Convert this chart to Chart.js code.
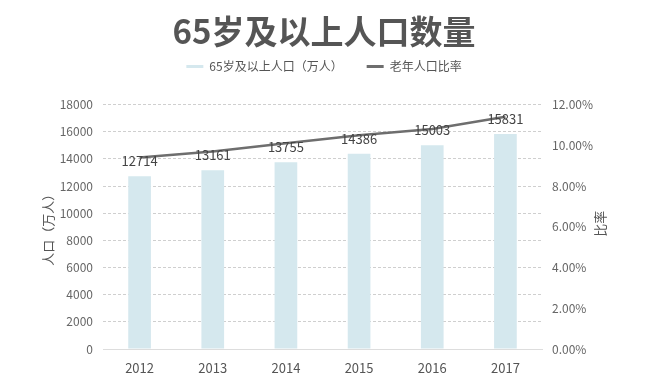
<!DOCTYPE html>
<html>
<head>
<meta charset="utf-8">
<script src="https://cdn.jsdelivr.net/npm/chart.js@4/dist/chart.umd.min.js"></script>
<style>
  html, body { margin: 0; padding: 0; background: #fff; }
  #wrap { width: 650px; height: 391px; }
</style>
</head>
<body>
<div id="wrap"><canvas id="c"></canvas></div>
<script>
// 数据
const years = ['2012', '2013', '2014', '2015', '2016', '2017'];
const population = [12714, 13161, 13755, 14386, 15003, 15831];
const ratio = [9.4, 9.7, 10.1, 10.5, 10.8, 11.4];

const FONT = "'Noto Sans CJK SC', 'Noto Sans', sans-serif";
const TXT = '#555';

// 图例下方留白
const legendGap = {
  id: 'legendGap',
  beforeInit(chart) {
    const fit = chart.legend.fit;
    chart.legend.fit = function () {
      fit.call(this);
      this.height += 22;
    };
  },
};

// 柱子上方数值 + 右侧轴标题（逆时针旋转）
const extras = {
  id: 'extras',
  afterDatasetsDraw(chart) {
    const c = chart.ctx;
    const meta = chart.getDatasetMeta(1);
    c.save();
    c.font = '13px ' + FONT;
    c.fillStyle = '#444';
    c.textAlign = 'center';
    c.textBaseline = 'middle';
    meta.data.forEach((bar, i) => {
      c.fillText(population[i], bar.x, bar.y - 15);
    });
    const area = chart.chartArea;
    c.translate(600, (area.top + area.bottom) / 2 - 3);
    c.rotate(-Math.PI / 2);
    c.fillStyle = TXT;
    c.fillText('比率', 0, 0);
    c.restore();
  },
};

new Chart(document.getElementById('c'), {
  data: {
    labels: years,
    datasets: [
      {
        type: 'line',
        label: '老年人口比率',
        data: ratio,
        yAxisID: 'y1',
        borderColor: '#6e6e6e',
        backgroundColor: '#6e6e6e',
        borderWidth: 2.5,
        pointRadius: 0,
        tension: 0,
        order: 0,
      },
      {
        type: 'bar',
        label: '65岁及以上人口（万人）',
        data: population,
        yAxisID: 'y',
        backgroundColor: '#d5e8ee',
        barPercentage: 0.31,
        categoryPercentage: 1,
        order: 1,
      },
    ],
  },
  options: {
    responsive: true,
    maintainAspectRatio: false,
    animation: false,
    layout: { padding: { left: 36, right: 38, top: 0, bottom: 0 } },
    plugins: {
      title: {
        display: true,
        text: '65岁及以上人口数量',
        color: '#555',
        font: { family: FONT, size: 33, weight: 'bold' },
        padding: { top: 12, bottom: -15 },
      },
      legend: {
        reverse: true,
        labels: {
          color: TXT,
          font: { family: FONT, size: 12 },
          boxWidth: 17,
          boxHeight: 3,
          padding: 24,
          generateLabels(chart) {
            const items = Chart.defaults.plugins.legend.labels.generateLabels(chart);
            items.forEach(it => { it.lineWidth = 0; });
            return items;
          },
        },
      },
      tooltip: { enabled: false },
    },
    scales: {
      x: {
        grid: { display: false },
        border: { color: '#ddd' },
        ticks: { color: TXT, font: { family: FONT, size: 13 }, padding: 3 },
        afterFit: s => { s.height = 42; },
      },
      y: {
        position: 'left',
        min: 0,
        max: 18000,
        ticks: {
          stepSize: 2000,
          color: '#666',
          font: { family: FONT, size: 12 },
          padding: 10,
          callback: v => String(v),
        },
        grid: { color: '#cfcfcf', drawTicks: false },
        border: { display: false, dash: [3, 2] },
        title: { display: true, text: '人口（万人）', color: TXT, font: { family: FONT, size: 13 } },
        afterFit: s => { s.width = 67; },
      },
      y1: {
        position: 'right',
        min: 0,
        max: 12,
        ticks: {
          stepSize: 2,
          color: '#666',
          font: { family: FONT, size: 12 },
          padding: 10,
          callback: v => v.toFixed(2) + '%',
        },
        grid: { display: false, drawTicks: false },
        border: { display: false },
        afterFit: s => { s.width = 70; },
      },
    },
  },
  plugins: [legendGap, extras],
});
</script>
</body>
</html>
